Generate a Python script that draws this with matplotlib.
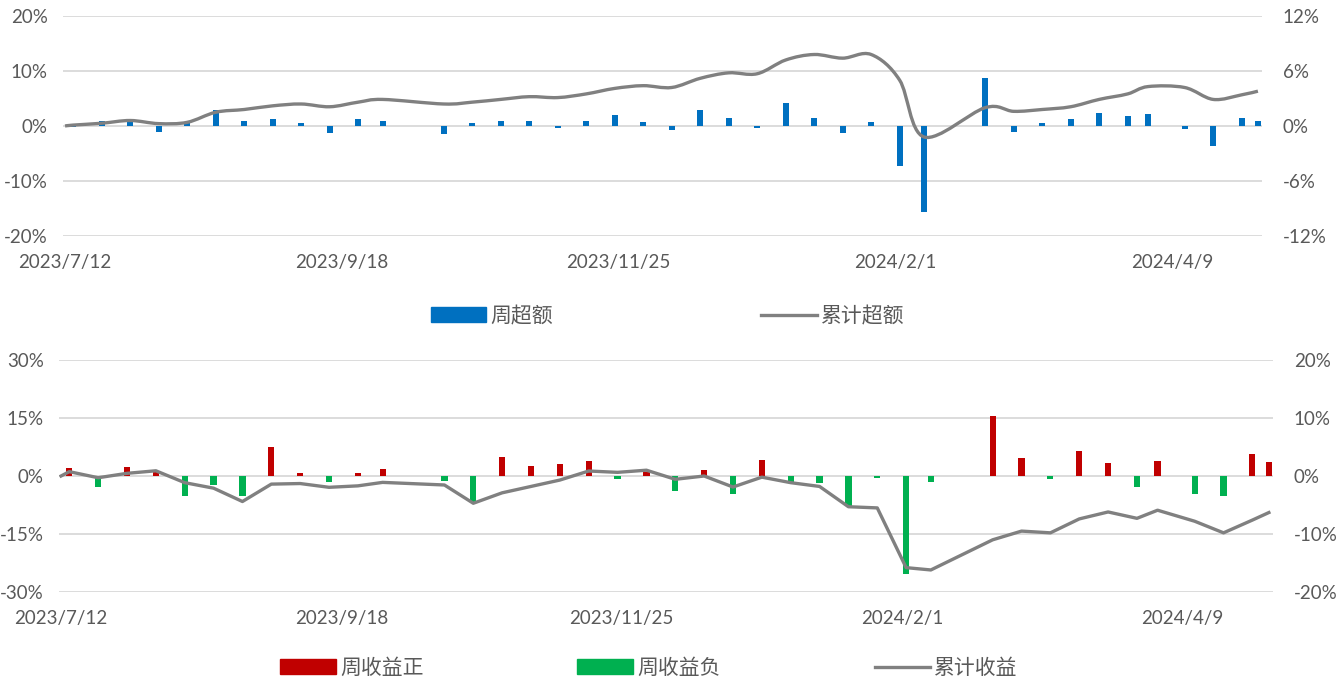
import numpy as np
import matplotlib.pyplot as plt
import matplotlib.dates as mdates
from matplotlib.path import Path
from matplotlib.patches import PathPatch, Patch
from matplotlib.lines import Line2D
from matplotlib.ticker import FuncFormatter, FixedLocator

plt.rcParams['font.family'] = ['Lato', 'Noto Sans CJK SC', 'DejaVu Sans']

start = '2023-07-12'
dates = ['2023-07-14', '2023-07-21', '2023-07-28', '2023-08-04', '2023-08-11', '2023-08-18',
         '2023-08-25', '2023-09-01', '2023-09-08', '2023-09-15', '2023-09-22', '2023-09-28',
         '2023-10-13', '2023-10-20', '2023-10-27', '2023-11-03', '2023-11-10', '2023-11-17',
         '2023-11-24', '2023-12-01', '2023-12-08', '2023-12-15', '2023-12-22', '2023-12-29',
         '2024-01-05', '2024-01-12', '2024-01-19', '2024-01-26', '2024-02-02', '2024-02-08',
         '2024-02-23', '2024-03-01', '2024-03-08', '2024-03-15', '2024-03-22', '2024-03-29',
         '2024-04-03', '2024-04-12', '2024-04-19', '2024-04-26', '2024-04-30']

# top panel (%)
week_excess = [-0.2, 0.9, 0.9, -1.1, 0.7, 3.0, 0.9, 1.3, 0.6, -1.2, 1.3, 1.0,
               -1.4, 0.6, 1.0, 1.0, -0.4, 1.0, 2.0, 0.7, -0.8, 3.0, 1.5, -0.4,
               4.1, 1.4, -1.2, 0.8, -7.3, -15.6,
               8.8, -1.0, 0.5, 1.3, 2.3, 1.9, 2.2, -0.5, -3.6, 1.5, 1.0]
cum_excess = [0.1, 0.3, 0.6, 0.26, 0.4, 1.5, 1.8, 2.2, 2.4, 2.1, 2.6, 2.9,
              2.4, 2.6, 2.9, 3.2, 3.1, 3.5, 4.1, 4.4, 4.2, 5.2, 5.8, 5.7,
              7.2, 7.8, 7.4, 7.8, 5.0, -1.2,
              2.0, 1.6, 1.8, 2.1, 2.9, 3.5, 4.3, 4.2, 2.9, 3.4, 3.8]

# bottom panel (%)
week_ret = [2.0, -2.8, 2.4, 1.1, -5.1, -2.3, -5.3, 7.4, 0.8, -1.6, 0.8, 1.7,
            -1.2, -7.1, 4.8, 2.6, 3.1, 3.9, -0.7, 1.0, -3.9, 1.5, -4.6, 4.1,
            -1.6, -1.8, -7.7, -0.6, -25.4, -1.6,
            15.4, 4.7, -0.8, 6.5, 3.4, -2.8, 3.9, -4.7, -5.2, 5.8, 3.5]
cum_ret = [0.75, -0.3, 0.46, 0.9, -1.15, -2.1, -4.4, -1.4, -1.3, -1.95, -1.7, -1.1,
           -1.55, -4.7, -2.9, -1.8, -0.7, 0.86, 0.63, 1.0, -0.57, 0.0, -1.9, -0.2,
           -1.15, -1.8, -5.3, -5.5, -15.8, -16.2,
           -11.0, -9.5, -9.8, -7.4, -6.2, -7.3, -5.9, -7.8, -9.8, -7.6, -6.3]

blue = '#0070C0'
red = '#C00000'
green = '#00B050'
gray = '#808080'
grid_c = '#D9D9D9'
txt = '#595959'

x = mdates.datestr2num(dates)
x0 = mdates.datestr2num(start)
line_x = np.concatenate([[x0], x])
ticks = [x0 + 68 * k for k in range(5)]


def smooth_path(xs, ys):
    # Excel-like smoothed line (Catmull-Rom as cubic bezier)
    p = np.column_stack([xs, ys])
    n = len(p)
    verts = [p[0]]
    codes = [Path.MOVETO]
    for i in range(n - 1):
        pa = p[i - 1] if i > 0 else p[i]
        pb = p[i + 2] if i + 2 < n else p[i + 1]
        verts += [p[i] + (p[i + 1] - pa) / 6, p[i + 1] - (pb - p[i]) / 6, p[i + 1]]
        codes += [Path.CURVE4] * 3
    return Path(verts, codes)


def style(ax, ax2, lticks, rticks):
    ax.set_xlim(x0 - 0.5, x0 + 294)
    ax.set_ylim(lticks[0], lticks[-1])
    ax2.set_ylim(rticks[0], rticks[-1])
    ax.set_yticks(lticks)
    ax2.set_yticks(rticks)
    ax.yaxis.set_major_formatter(FuncFormatter(lambda v, p: f'{v:.0f}%'))
    ax2.yaxis.set_major_formatter(FuncFormatter(lambda v, p: f'{v:.0f}%'))
    ax.xaxis.set_major_locator(FixedLocator(ticks))
    ax.xaxis.set_major_formatter(FuncFormatter(
        lambda v, p: (lambda d: f'{d.year}/{d.month}/{d.day}')(mdates.num2date(v))))
    ax.grid(axis='y', color=grid_c, lw=1.3)
    ax.set_axisbelow(True)
    for a in (ax, ax2):
        for s in a.spines.values():
            s.set_visible(False)
        a.tick_params(length=0, labelsize=13.5, labelcolor=txt)
    ax.tick_params(axis='x', pad=13)
    ax.tick_params(axis='y', pad=11)
    ax2.tick_params(axis='y', pad=15)


fig = plt.figure(figsize=(13.38, 6.86), dpi=100)

# top panel
ax1 = fig.add_axes([63 / 1338, 1 - 236 / 686, 1199 / 1338, 220 / 686])
ax1r = ax1.twinx()
ax1.bar(x, week_excess, width=1.5, color=blue, zorder=2)
ax1r.add_patch(PathPatch(smooth_path(line_x, [0] + cum_excess), fill=False,
                         edgecolor=gray, lw=2.4, zorder=3))
style(ax1, ax1r, [-20, -10, 0, 10, 20], [-12, -6, 0, 6, 12])

fig.legend(handles=[Patch(color=blue, label='周超额'),
                    Line2D([], [], color=gray, lw=2.4, label='累计超额')],
           loc='center', bbox_to_anchor=(0.499, 1 - 316 / 686), ncol=2, frameon=False,
           fontsize=15, labelcolor=txt, handlelength=2.65, handletextpad=0.2,
           columnspacing=10.0)

# bottom panel
ax2 = fig.add_axes([59 / 1338, 1 - 592 / 686, 1214 / 1338, 232 / 686])
ax2r = ax2.twinx()
pos = [v if v > 0 else 0 for v in week_ret]
neg = [v if v < 0 else 0 for v in week_ret]
ax2.bar(x, pos, width=1.5, color=red, zorder=2)
ax2.bar(x, neg, width=1.5, color=green, zorder=2)
ax2r.plot(line_x, [0] + cum_ret, color=gray, lw=2.4, zorder=3)
style(ax2, ax2r, [-30, -15, 0, 15, 30], [-20, -10, 0, 10, 20])

fig.legend(handles=[Patch(color=red, label='周收益正'),
                    Patch(color=green, label='周收益负'),
                    Line2D([], [], color=gray, lw=2.4, label='累计收益')],
           loc='center', bbox_to_anchor=(0.485, 1 - 668 / 686), ncol=3, frameon=False,
           fontsize=15, labelcolor=txt, handlelength=2.65, handletextpad=0.2,
           columnspacing=7.4)

fig.savefig('out.png', dpi=100)
